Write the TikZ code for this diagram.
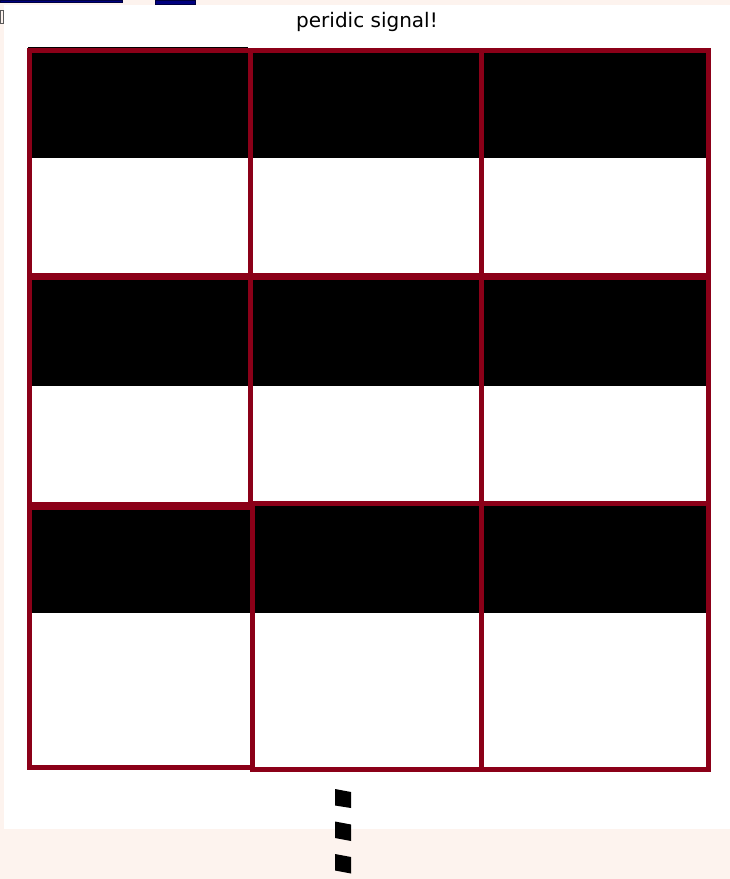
\documentclass[tikz,border=0pt]{standalone}
\usepackage{fontspec}
\newfontfamily\titlefont{DejaVu Sans}
\definecolor{bgpink}{RGB}{253,243,238}
\definecolor{gridred}{RGB}{139,0,24}
\definecolor{navyblue}{RGB}{0,0,128}
\begin{document}
\begin{tikzpicture}[x=1pt,y=-1pt,
  redline/.style={draw=gridred,line width=5pt},
  topbar/.style={fill=navyblue,draw=navyblue!50!black,line width=0.5pt},
  dotmark/.style={fill=black}]
\useasboundingbox (0,0) rectangle (730,879);
\fill[bgpink] (0,0) rectangle (730,879);
\fill[white] (4,5) rectangle (730,829);
\filldraw[topbar] (0,0) rectangle (122,2.2);
\filldraw[topbar] (155,0) rectangle (195,4);
\draw[gray!70!black,line width=0.8pt] (0,10.5) rectangle (3,23.5);
\node[font=\titlefont\fontsize{20}{24}\selectfont,anchor=base,inner sep=0pt] (title) at (367,27) {peridic signal!};
% black bands
\fill (29,52) rectangle (708,158);
\fill (29,278) rectangle (708,386);
\fill (29,506) rectangle (708,613);
\draw[line width=1.5pt] (28,47.3) -- (248,47.3);
% grid lines
\draw[redline] (27,50.5) -- (710.5,50.5);
\draw[redline] (29.5,48) -- (29.5,769.5);
\draw[redline] (708,48) -- (708,771.5);
\draw[redline] (250.5,48) -- (250.5,505);
\draw[redline] (252,502) -- (252,771.5);
\draw[redline] (481,48) -- (481,771.5);
\draw[redline,line width=6.5pt] (27,276.5) -- (710.5,276.5);
\draw[redline,line width=8pt] (27,506) -- (252,506);
\draw[redline,line width=5.5pt] (250,503.5) -- (710.5,503.5);
\draw[redline] (27,767) -- (252,767);
\draw[redline] (250,769) -- (710.5,769);
% continuation marks
\fill[dotmark] (335,789) -- (351,792) -- (351,808) -- (335,805.5) -- cycle;
\fill[dotmark] (335,821.5) -- (351,824.5) -- (351,841) -- (335,838) -- cycle;
\fill[dotmark] (335,854) -- (351,857) -- (351,873.5) -- (335,870.5) -- cycle;
\end{tikzpicture}
\end{document}
